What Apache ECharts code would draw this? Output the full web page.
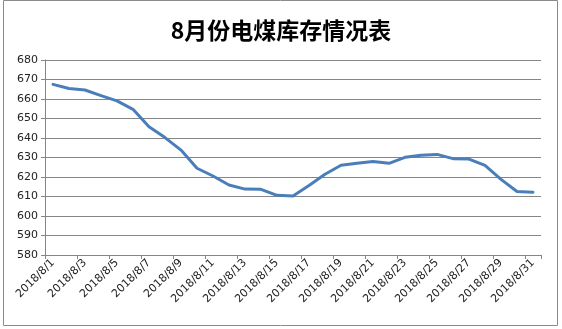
<!DOCTYPE html>
<html><head><meta charset="utf-8">
<script src="https://cdn.jsdelivr.net/npm/echarts@6/dist/echarts.min.js"></script>
<style>html,body{margin:0;padding:0;background:#fff}#c{width:562px;height:329px}</style>
</head><body><div id="c"></div>
<script>
var titleText = '8月份电煤库存情况表';
var categories = [];
for (var d = 1; d <= 31; d++) categories.push('2018/8/' + d);
var stockValues = [667.5,665.4,664.6,661.7,659,654.7,645.8,640.2,633.8,624.5,620.5,615.9,613.8,613.7,610.6,610.3,615.6,621.4,626,627,628,627,630.1,631.1,631.6,629.4,629.2,626,618.8,612.6,612.2];
var yTicks = {min:580, max:680, interval:10};

var chart = echarts.init(document.getElementById('c'));
chart.setOption({
  animation:false,
  backgroundColor:'#fff',
  title:{text:titleText,left:'center',top:14,textStyle:{fontFamily:'Noto Sans CJK SC',fontSize:23,fontWeight:'bold',color:'#000'}},
  graphic:[{type:'rect',shape:{x:3.5,y:0.5,width:554,height:325},style:{fill:'none',stroke:'#8a8a8a',lineWidth:1}}],
  grid:{left:45,right:21,top:60,bottom:74,containLabel:false},
  xAxis:{type:'category',data:categories,boundaryGap:true,
    axisLine:{lineStyle:{color:'#868686'}},
    axisTick:{show:true,interval:1,length:4,lineStyle:{color:'#868686'}},
    axisLabel:{interval:1,rotate:45,fontFamily:'DejaVu Sans',fontSize:11,color:'#222',margin:6}},
  yAxis:{type:'value',min:yTicks.min,max:yTicks.max,interval:yTicks.interval,
    axisLine:{show:true,lineStyle:{color:'#868686'}},
    axisTick:{show:true,length:4,lineStyle:{color:'#868686'}},
    splitLine:{lineStyle:{color:'#868686',width:1}},
    axisLabel:{fontFamily:'DejaVu Sans',fontSize:11,color:'#222',margin:7}},
  series:[{type:'line',data:stockValues,showSymbol:false,symbol:'none',smooth:false,
    lineStyle:{color:'#4a7ebb',width:3,cap:'round',join:'round'}}]
});
</script></body></html>
